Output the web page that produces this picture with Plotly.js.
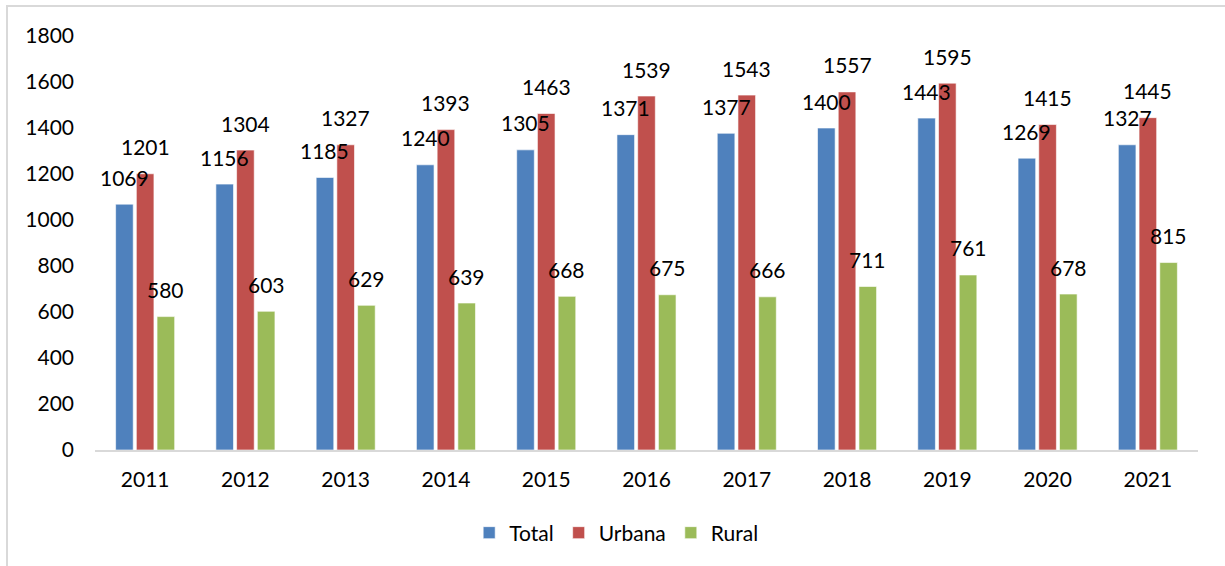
<!DOCTYPE html>
<html>
<head>
<meta charset="utf-8">
<script src="https://cdn.plot.ly/plotly-3.0.1.min.js"></script>
<style>
  html, body { margin: 0; padding: 0; background: #ffffff; }
  #wrap { position: relative; width: 1225px; height: 566px; overflow: hidden; }
  #chart { position: absolute; left: 0; top: 0; width: 1225px; height: 566px; }
  #frame { position: absolute; left: 6px; top: 5px; width: 1300px; height: 700px;
           border: 2px solid #d9d9d9; pointer-events: none; }
</style>
</head>
<body>
<div id="wrap">
  <div id="chart"></div>
  <div id="frame"></div>
</div>
<script>
const years = ['2011','2012','2013','2014','2015','2016','2017','2018','2019','2020','2021'];
const total  = [1069, 1156, 1185, 1240, 1305, 1371, 1377, 1400, 1443, 1269, 1327];
const urbana = [1201, 1304, 1327, 1393, 1463, 1539, 1543, 1557, 1595, 1415, 1445];
const rural  = [580, 603, 629, 639, 668, 675, 666, 711, 761, 678, 815];
const seriesNames = ['Total', 'Urbana', 'Rural'];
const colors = ['#4F81BD', '#C0504D', '#9BBB59'];
const yTicks = [0, 200, 400, 600, 800, 1000, 1200, 1400, 1600, 1800];

const FONT = 'Lato, "Open Sans", sans-serif';
const FS = 21;
const W = 1225, H = 566;
const margin = {l: 95, r: 27, t: 36, b: 116};
const bargap = 0.38, bargroupgap = 0.15;

const seriesData = [total, urbana, rural];
const traces = seriesData.map((vals, i) => ({
  type: 'bar',
  name: seriesNames[i],
  x: years,
  y: vals,
  marker: {color: colors[i], line: {color: 'rgba(255,255,255,0.6)', width: 1}},
  hoverinfo: 'x+y+name'
}));

// label offsets derived from the grouped-bar geometry
const plotW = W - margin.l - margin.r;
const catW = plotW / years.length;
const slot = catW * (1 - bargap) / seriesData.length;
const annotations = [];
seriesData.forEach((vals, i) => {
  const shift = (i - (seriesData.length - 1) / 2) * slot;
  vals.forEach((v, j) => {
    annotations.push({
      x: j, y: v, xref: 'x', yref: 'y',
      text: String(v), showarrow: false,
      xshift: shift, yshift: 27, yanchor: 'middle', xanchor: 'center',
      font: {family: FONT, size: FS, color: '#000000'}
    });
  });
});

const layout = {
  width: W, height: H,
  margin: margin,
  paper_bgcolor: '#ffffff', plot_bgcolor: '#ffffff',
  barmode: 'group', bargap: bargap, bargroupgap: bargroupgap,
  font: {family: FONT, size: FS, color: '#000000'},
  xaxis: {
    type: 'category', range: [-0.5, years.length - 0.5], autorange: false,
    showline: true, linecolor: '#d9d9d9', linewidth: 2,
    showgrid: false, ticks: '', ticklabelstandoff: 10,
    tickfont: {family: FONT, size: FS, color: '#000000'},
    zeroline: false, automargin: false
  },
  yaxis: {
    range: [0, 1800], autorange: false, tickvals: yTicks, ticktext: yTicks.map(String),
    showline: false, showgrid: false, zeroline: false, ticks: '',
    ticklabelstandoff: 20, automargin: false,
    tickfont: {family: FONT, size: FS, color: '#000000'}
  },
  showlegend: true,
  legend: {
    orientation: 'h', xref: 'container', yref: 'container',
    x: 0.503, xanchor: 'center', y: 1 - 533 / 566, yanchor: 'middle',
    font: {family: FONT, size: FS, color: '#000000'},
    itemwidth: 30, traceorder: 'normal'
  },
  annotations: annotations
};

Plotly.newPlot('chart', traces, layout, {displayModeBar: false, staticPlot: true});
</script>
</body>
</html>
